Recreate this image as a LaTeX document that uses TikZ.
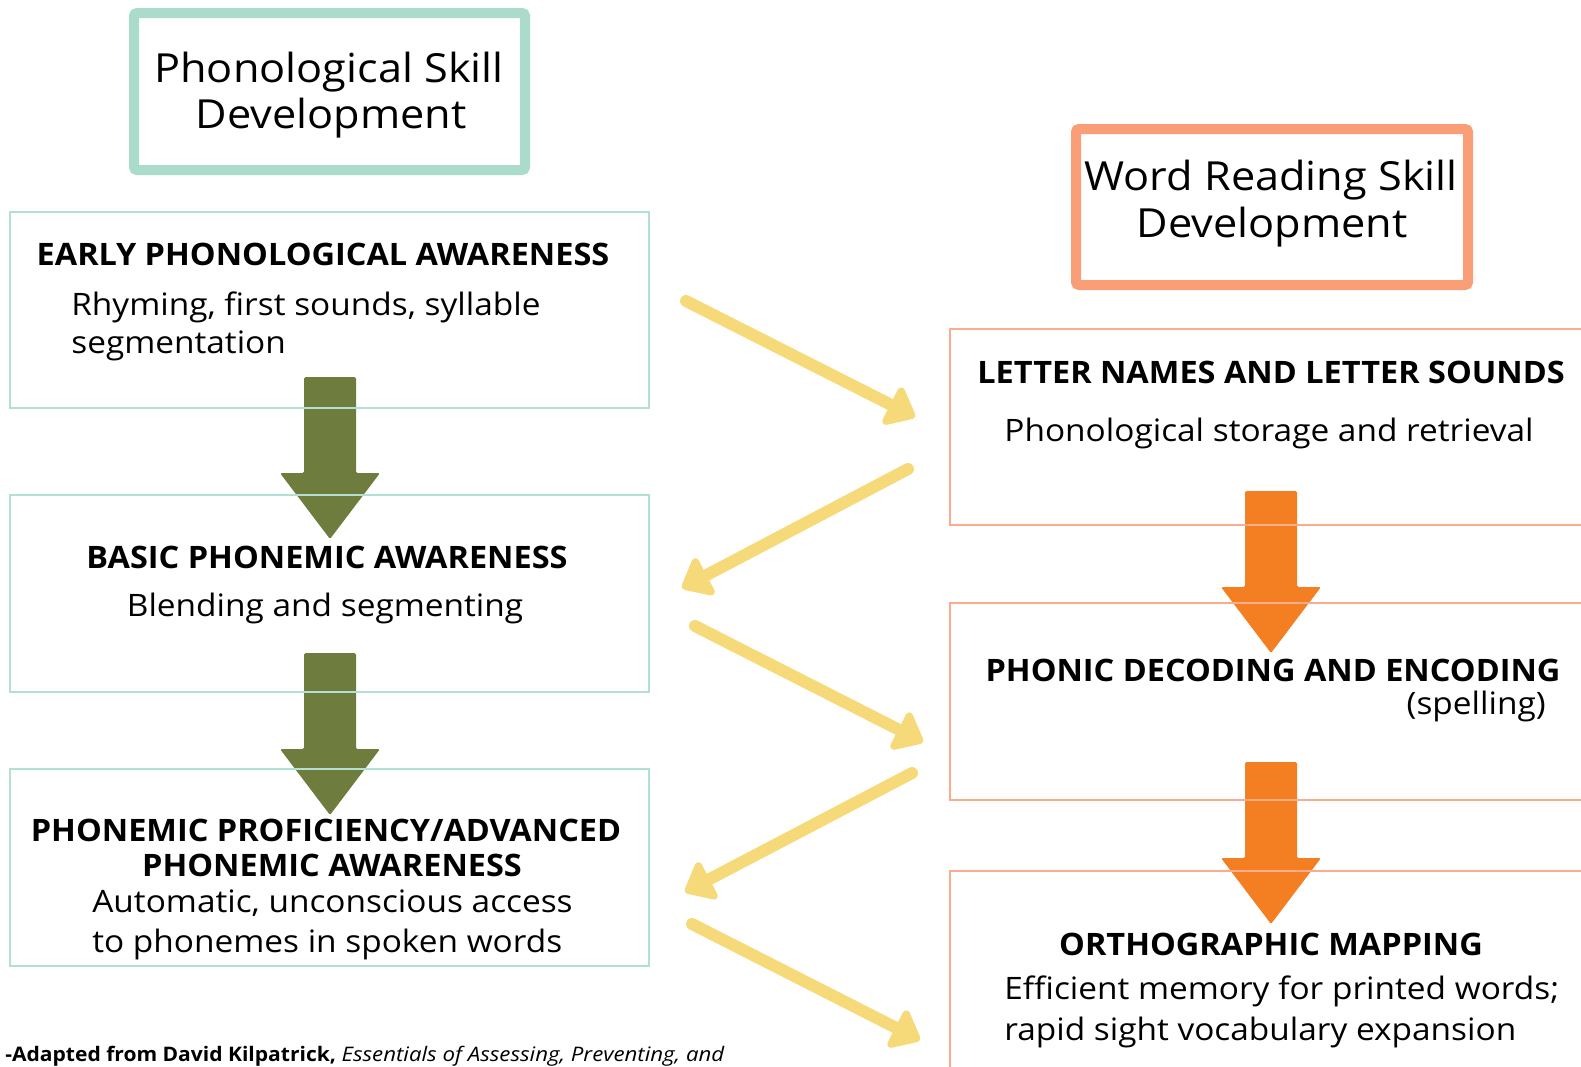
\documentclass[tikz,border=0pt]{standalone}
\usepackage{fontspec}
\setmainfont{Open Sans}[FakeStretch=1.08,
  BoldFeatures={FakeStretch=1.05},
  ItalicFeatures={FakeStretch=1.11}]
\usetikzlibrary{arrows.meta,fit}
\definecolor{tealline}{RGB}{171,219,202}
\definecolor{tealthin}{RGB}{178,224,210}
\definecolor{orangeline}{RGB}{249,158,118}
\definecolor{orangethin}{RGB}{251,172,140}
\definecolor{olive}{RGB}{110,125,62}
\definecolor{blockorange}{RGB}{244,126,34}
\definecolor{sunny}{RGB}{246,218,122}
\tikzset{
  titlebox/.style={draw, line width=0.2cm, rounded corners=0.06cm, inner sep=0pt},
  tealtitle/.style={titlebox, draw=tealline},
  orangetitle/.style={titlebox, draw=orangeline},
  stagebox/.style={draw, line width=0.05cm, inner sep=0pt},
  tealbox/.style={stagebox, draw=tealthin},
  orangebox/.style={stagebox, draw=orangethin},
  ttl/.style={font=\fontsize{22.8}{27}\selectfont, inner sep=0pt},
  hd/.style={font=\bfseries\fontsize{17.6}{21}\selectfont, inner sep=0pt},
  bd/.style={font=\fontsize{17.6}{21}\selectfont, inner sep=0pt},
  foot/.style={font=\fontsize{11.4}{14}\selectfont, inner sep=0pt},
  yarrow/.style={draw=sunny, line width=0.24cm, line cap=round,
    -{Triangle[length=0.6cm, width=0.95cm, round]}},
  pics/blockdown/.style={code={
    \fill[#1, rounded corners=0.03cm]
      (-26,0) -- (26,0) -- (26,96) -- (50,96) -- (0,162) -- (-50,96) -- (-26,96) -- cycle;
  }},
}
\begin{document}
\begin{tikzpicture}[x=0.02cm, y=-0.02cm]
\useasboundingbox (0,0) rectangle (1581,1066);
\clip (0,0) rectangle (1581,1066);

% block arrows between the stages (drawn first, frames go over them)
\pic at (330,377) {blockdown=olive};
\pic at (330,653) {blockdown=olive};
\pic at (1271,491) {blockdown=blockorange};
\pic at (1271,762) {blockdown=blockorange};

% column headings
\node[tealtitle, fit={(134,13) (525,170)}] (phontitle) {};
\node[ttl, anchor=base] (phontitleA) at (329,82) {Phonological Skill};
\node[ttl, anchor=base] (phontitleB) at (331,128) {Development};

\node[orangetitle, fit={(1076,129) (1468,285)}] (wordtitle) {};
\node[ttl, anchor=base] (wordtitleA) at (1271,190) {Word Reading Skill};
\node[ttl, anchor=base] (wordtitleB) at (1272,237) {Development};

% phonological stages
\node[tealbox, fit={(10,212) (649,408)}] (early) {};
\node[hd, anchor=base] (earlyhd) at (323,265) {EARLY PHONOLOGICAL AWARENESS};
\node[bd, anchor=base west] (earlyA) at (71,315) {Rhyming, first sounds, syllable};
\node[bd, anchor=base west] (earlyB) at (71,353) {segmentation};

\node[tealbox, fit={(10,495) (649,692)}] (basic) {};
\node[hd, anchor=base] (basichd) at (327,568) {BASIC PHONEMIC AWARENESS};
\node[bd, anchor=base] (basicA) at (325,616) {Blending and segmenting};

\node[tealbox, fit={(10,769) (649,966)}] (adv) {};
\node[hd, anchor=base] (advhdA) at (326,841) {PHONEMIC PROFICIENCY/ADVANCED};
\node[hd, anchor=base] (advhdB) at (332,876) {PHONEMIC AWARENESS};
\node[bd, anchor=base west] (advA) at (92,912) {Automatic, unconscious access};
\node[bd, anchor=base west] (advB) at (92,952) {to phonemes in spoken words};

% word reading stages
\node[orangebox, fit={(950,329) (1620,525)}] (letters) {};
\node[hd, anchor=base] (lettershd) at (1271,383) {LETTER NAMES AND LETTER SOUNDS};
\node[bd, anchor=base] (lettersA) at (1269,441) {Phonological storage and retrieval};

\node[orangebox, fit={(950,603) (1620,800)}] (phonic) {};
\node[hd, anchor=base] (phonichd) at (1273,681) {PHONIC DECODING AND ENCODING};
\node[bd, anchor=base east] (phonicA) at (1546,714) {(spelling)};

\node[orangebox, fit={(950,871) (1620,1120)}] (ortho) {};
\node[hd, anchor=base] (orthohd) at (1271,955) {ORTHOGRAPHIC MAPPING};
\node[bd, anchor=base west] (orthoA) at (1004,999) {Efficient memory for printed words;};
\node[bd, anchor=base west] (orthoB) at (1004,1040) {rapid sight vocabulary expansion};

% zig-zag links between the two columns
\coordinate (z1s) at (686,301);  \coordinate (z1e) at (915,417);
\coordinate (z2s) at (908,469);  \coordinate (z2e) at (682,588);
\coordinate (z3s) at (695,626);  \coordinate (z3e) at (923,742);
\coordinate (z4s) at (912,773);  \coordinate (z4e) at (685,892);
\coordinate (z5s) at (692,924);  \coordinate (z5e) at (920,1040);
\draw[yarrow] (z1s) -- (z1e);
\draw[yarrow] (z2s) -- (z2e);
\draw[yarrow] (z3s) -- (z3e);
\draw[yarrow] (z4s) -- (z4e);
\draw[yarrow] (z5s) -- (z5e);

% source line
\node[foot, anchor=base west] (source) at (5,1061)
  {\textbf{-Adapted from David Kilpatrick,} \textit{Essentials of Assessing, Preventing, and}};
\end{tikzpicture}
\end{document}
